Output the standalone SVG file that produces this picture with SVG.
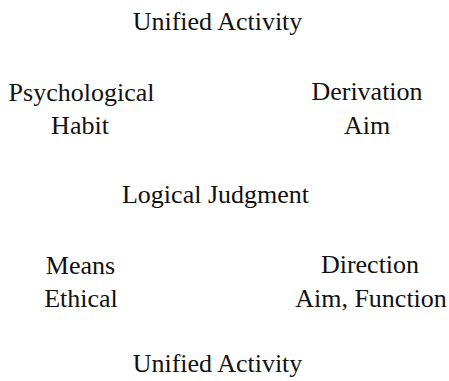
<svg xmlns="http://www.w3.org/2000/svg" width="449" height="381" viewBox="0 0 449 381">
<style>
text{font-family:"Liberation Serif","Times New Roman",serif;font-size:26px;fill:#111;text-anchor:middle}
</style>
<rect width="449" height="381" fill="#fff"/>
<g id="top"><text x="217.5" y="30">Unified Activity</text></g>
<g id="psych"><text x="81.5" y="101">Psychological</text><text x="80" y="134">Habit</text></g>
<g id="deriv"><text x="367" y="100">Derivation</text><text x="367" y="134">Aim</text></g>
<g id="logic"><text x="215.5" y="203">Logical Judgment</text></g>
<g id="means"><text x="80.5" y="274">Means</text><text x="81" y="307">Ethical</text></g>
<g id="direction"><text x="370" y="273">Direction</text><text x="371" y="307">Aim, Function</text></g>
<g id="bottom"><text x="217.5" y="372">Unified Activity</text></g>
<g id="connectors"></g>
</svg>
